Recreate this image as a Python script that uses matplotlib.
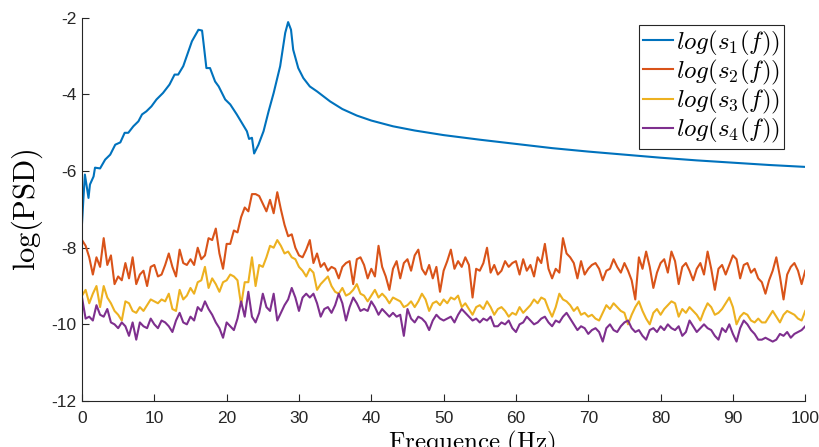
import numpy as np
import matplotlib
matplotlib.use('Agg')
import matplotlib.pyplot as plt

plt.rcParams['mathtext.fontset'] = 'cm'
plt.rcParams['font.family'] = ['Liberation Sans', 'DejaVu Sans']
plt.rcParams['axes.unicode_minus'] = False

#s1: smooth spectrum, read at irregular frequencies
f1 = [0, 0.2, 0.4, 0.9, 1.1, 1.6, 1.8, 2.5, 3.2, 3.9, 4.6, 5.3, 5.9, 6.4, 7.1, 7.8,
      8.3, 8.9, 9.6, 10.3, 11.2, 12.1, 12.8, 13.3, 14.0, 15.2, 16.1, 16.6, 16.8, 17.2,
      17.7, 18.4, 18.9, 19.8, 20.5, 21.4, 22.1, 22.8, 23.1, 23.5, 23.8, 24.4, 25.1,
      25.8, 26.5, 27.4, 28.1, 28.5, 28.9, 29.2, 29.9, 30.6, 31.5, 32.5, 33.4, 34.3,
      36, 38, 40, 43, 46, 50, 55, 60, 65, 70, 75, 80, 85, 90, 95, 100]
s1 = [-7.37, -6.70, -6.09, -6.70, -6.35, -6.14, -5.91, -5.93, -5.70, -5.57, -5.31,
      -5.25, -5.00, -5.00, -4.83, -4.70, -4.52, -4.44, -4.31, -4.13, -3.96, -3.74,
      -3.48, -3.48, -3.26, -2.61, -2.31, -2.33, -2.65, -3.31, -3.31, -3.66, -3.79,
      -4.13, -4.26, -4.52, -4.74, -4.96, -5.16, -5.13, -5.54, -5.31, -4.96, -4.44,
      -3.96, -3.26, -2.39, -2.11, -2.31, -2.83, -3.31, -3.57, -3.79, -3.92, -4.05,
      -4.18, -4.38, -4.55, -4.68, -4.83, -4.94, -5.06, -5.18, -5.29, -5.40, -5.49,
      -5.57, -5.65, -5.72, -5.78, -5.84, -5.89]

#s2..s4: noisy spectra on a 0.5 Hz grid
freq = np.arange(0, 100.5, 0.5)
s2 = [-7.80, -7.95, -8.25, -8.70, -8.25, -8.50, -7.75, -8.45, -8.20, -8.95,
      -8.75, -8.85, -8.40, -8.80, -8.25, -8.95, -8.70, -8.60, -9.00, -8.50,
      -8.45, -8.75, -8.70, -8.45, -8.15, -8.50, -8.75, -8.05, -8.40, -8.45,
      -8.30, -8.45, -8.00, -8.30, -8.20, -7.75, -7.80, -7.50, -8.15, -8.55,
      -7.90, -7.90, -7.55, -7.60, -7.20, -6.95, -7.05, -6.60, -6.60, -6.65,
      -6.85, -7.05, -6.75, -7.10, -6.55, -7.00, -7.40, -7.70, -7.65, -8.00,
      -8.20, -8.25, -8.05, -7.80, -8.40, -8.15, -8.50, -8.40, -8.60, -8.50,
      -8.55, -8.80, -8.50, -8.40, -8.35, -8.95, -8.30, -8.25, -8.45, -8.80,
      -8.55, -8.75, -7.95, -8.50, -8.75, -9.10, -8.55, -8.35, -8.80, -8.40,
      -8.30, -8.60, -8.20, -8.05, -8.55, -8.70, -8.45, -8.80, -8.50, -9.15,
      -8.60, -8.35, -8.05, -8.55, -8.35, -8.50, -8.25, -8.45, -9.30, -8.55,
      -8.60, -8.40, -8.00, -8.65, -8.45, -8.70, -8.60, -8.35, -8.50, -8.40,
      -8.35, -8.70, -8.30, -8.60, -8.45, -8.75, -8.25, -8.40, -7.90, -8.55,
      -8.80, -8.55, -8.65, -7.75, -8.15, -8.25, -8.40, -8.80, -8.35, -8.70,
      -8.55, -8.45, -8.40, -8.55, -8.85, -8.60, -8.55, -8.30, -8.50, -8.65,
      -8.40, -8.60, -8.85, -9.35, -8.25, -8.55, -8.10, -8.50, -9.05, -8.65,
      -8.40, -8.30, -8.65, -8.10, -8.35, -8.95, -8.50, -8.40, -8.60, -8.85,
      -8.55, -8.40, -8.70, -8.10, -8.55, -9.10, -8.55, -8.45, -8.70, -8.45,
      -8.20, -8.30, -8.80, -8.45, -8.40, -8.65, -8.55, -8.80, -8.90, -9.20,
      -8.85, -8.60, -8.25, -8.75, -9.35, -8.70, -8.50, -8.40, -8.60, -8.95,
      -8.60]
s3 = [-9.25, -9.10, -9.45, -9.20, -9.00, -9.55, -9.00, -9.30, -9.45, -9.65,
      -9.75, -9.90, -9.40, -9.45, -9.65, -9.70, -9.55, -9.65, -9.50, -9.35,
      -9.40, -9.45, -9.35, -9.40, -9.20, -9.60, -9.65, -9.10, -9.35, -9.25,
      -9.05, -9.20, -8.90, -8.85, -8.50, -9.05, -8.80, -8.95, -9.15, -8.90,
      -8.85, -8.70, -8.75, -8.85, -9.50, -8.90, -8.90, -8.25, -9.00, -8.45,
      -8.50, -8.25, -7.95, -8.00, -7.80, -7.95, -8.15, -8.10, -8.25, -8.30,
      -8.50, -8.60, -8.75, -8.55, -8.65, -9.10, -8.95, -8.85, -8.75, -9.00,
      -9.15, -9.20, -9.05, -9.25, -9.20, -9.10, -8.95, -9.20, -9.25, -9.40,
      -9.25, -9.10, -9.30, -9.20, -9.30, -9.45, -9.30, -9.35, -9.40, -9.55,
      -9.50, -9.40, -9.55, -9.40, -9.20, -9.35, -9.65, -9.45, -9.40, -9.50,
      -9.35, -9.45, -9.30, -9.35, -9.25, -9.55, -9.45, -9.60, -9.75, -9.55,
      -9.50, -9.60, -9.40, -9.55, -9.75, -9.60, -9.55, -9.65, -9.80, -9.70,
      -9.75, -9.55, -9.70, -9.60, -9.50, -9.35, -9.45, -9.30, -9.35, -9.60,
      -9.80, -9.55, -9.20, -9.35, -9.40, -9.50, -9.65, -9.55, -9.75, -9.70,
      -9.80, -9.75, -9.85, -9.90, -9.70, -9.50, -9.60, -9.45, -9.55, -9.65,
      -9.70, -10.00, -9.75, -9.55, -9.40, -9.65, -9.85, -10.00, -9.70, -9.60,
      -9.75, -9.60, -9.50, -9.40, -9.45, -9.80, -9.60, -9.70, -9.55, -9.65,
      -9.75, -9.90, -9.65, -9.45, -9.55, -9.75, -9.70, -9.60, -9.45, -9.30,
      -9.55, -10.00, -9.80, -9.70, -9.75, -9.90, -9.95, -9.85, -9.95, -9.95,
      -9.80, -9.65, -9.80, -9.95, -9.75, -9.65, -9.70, -9.75, -9.85, -9.90,
      -9.65]
s4 = [-9.30, -9.85, -9.80, -9.90, -9.50, -9.75, -9.80, -9.60, -9.95, -10.00,
      -10.10, -9.95, -10.05, -10.30, -9.95, -10.40, -9.95, -10.05, -10.10, -9.85,
      -10.00, -10.10, -9.90, -9.95, -10.05, -10.20, -9.90, -9.70, -9.95, -10.00,
      -9.80, -9.90, -9.55, -9.65, -9.40, -9.60, -9.75, -9.95, -10.10, -10.35,
      -9.95, -10.05, -10.15, -9.85, -9.40, -9.80, -9.15, -9.80, -9.95, -9.70,
      -9.20, -9.55, -9.65, -9.20, -9.90, -9.70, -9.50, -9.35, -9.05, -9.30,
      -9.65, -9.30, -9.20, -9.30, -9.20, -9.45, -9.80, -9.60, -9.55, -9.70,
      -9.50, -9.20, -9.45, -9.90, -9.55, -9.30, -9.45, -9.65, -9.60, -9.65,
      -9.40, -9.55, -9.75, -9.60, -9.70, -9.80, -9.70, -9.80, -9.75, -10.30,
      -9.60, -9.85, -9.95, -9.80, -9.85, -9.95, -10.15, -9.90, -9.75, -9.85,
      -9.90, -9.85, -9.80, -9.95, -9.75, -9.60, -9.70, -9.80, -9.90, -9.85,
      -9.95, -9.85, -9.90, -9.80, -10.05, -10.05, -9.95, -10.00, -9.90, -10.10,
      -10.20, -10.00, -9.95, -9.80, -9.90, -10.00, -9.95, -9.85, -9.80, -9.95,
      -10.05, -9.90, -9.95, -9.80, -9.70, -9.85, -10.00, -10.15, -10.05, -10.10,
      -10.25, -10.15, -10.10, -10.20, -10.45, -10.10, -10.00, -10.15, -10.20, -10.05,
      -9.95, -9.90, -10.10, -10.20, -10.15, -10.30, -10.40, -10.15, -10.10, -10.20,
      -10.05, -10.15, -10.00, -10.10, -10.15, -10.05, -10.30, -10.20, -9.90, -10.05,
      -10.20, -10.10, -10.00, -10.10, -10.15, -10.30, -10.40, -10.10, -10.20, -10.00,
      -10.25, -10.45, -10.10, -9.90, -10.00, -10.15, -10.25, -10.40, -10.40, -10.35,
      -10.40, -10.45, -10.40, -10.25, -10.30, -10.20, -10.35, -10.25, -10.20, -10.15,
      -10.05]

labels = ['$log(s_1(f))$', '$log(s_2(f))$', '$log(s_3(f))$', '$log(s_4(f))$']
colors = ['#0072BD', '#D95319', '#EDB120', '#7E2F8E']

fig = plt.figure(figsize=(8.2, 4.47), dpi=100)
ax = fig.add_axes([0.1, 0.103, 0.882, 0.857])

ax.plot(f1, s1, lw=1.5, c=colors[0], label=labels[0])
for s, c, lab in zip([s2, s3, s4], colors[1:], labels[1:]):
    ax.plot(freq, s, lw=1.5, c=c, label=lab)

ax.set_xlim(0, 100)
ax.set_ylim(-12, -2)
ax.set_xticks(np.arange(0, 101, 10))
ax.set_yticks(np.arange(-12, -1, 2))
ax.set_yticklabels([str(v) for v in range(-12, -1, 2)])

for side in ['top', 'right']:
    ax.spines[side].set_visible(False)
for side in ['left', 'bottom']:
    ax.spines[side].set_color('#262626')
    ax.spines[side].set_linewidth(0.8)
ax.tick_params(direction='in', length=5, width=0.8, colors='#262626', labelsize=12.5)
ax.tick_params(axis='x', pad=7)
ax.tick_params(axis='y', pad=4)

ax.set_ylabel('$\\mathrm{log(PSD)}$', fontsize=22, va='center')
ax.yaxis.set_label_coords(-0.076, 0.5)
ax.set_xlabel('$\\mathrm{Frequence\\ (Hz)}$', fontsize=18, va='center')
ax.xaxis.set_label_coords(0.539, -0.111)

leg = ax.legend(loc='upper right', bbox_to_anchor=(0.971, 0.982), borderaxespad=0,
                fontsize=18, fancybox=False, framealpha=1, edgecolor='#262626',
                handlelength=1.2, handletextpad=0.15, labelspacing=0.0,
                borderpad=0.15)
leg.get_frame().set_linewidth(0.8)

fig.savefig('out.png', dpi=100)
plt.close()
